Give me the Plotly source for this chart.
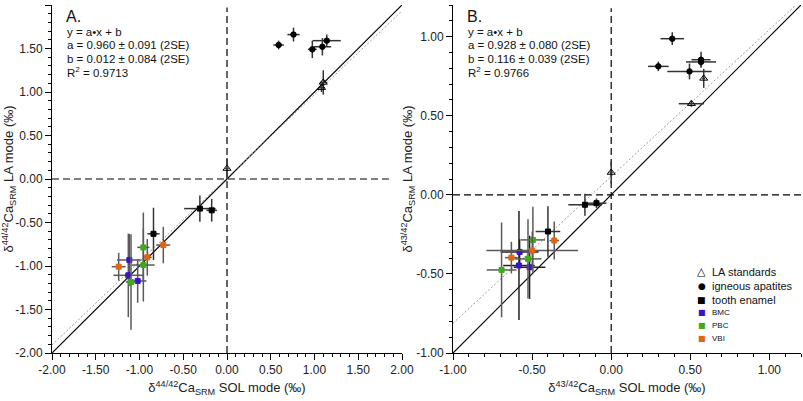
import plotly.graph_objects as go

# ---------------- data: panel A (δ44/42Ca) ----------------
A_std_x = [0.00, 1.08, 1.10]
A_std_y = [0.12, 1.05, 1.11]
A_std_xe = [0.02, 0.04, 0.04]
A_std_ye = [0.12, 0.05, 0.14]

A_ign_x = [0.59, 0.76, 0.975, 1.09, 1.14]
A_ign_y = [1.54, 1.66, 1.49, 1.52, 1.59]
A_ign_xe = [0.06, 0.07, 0.05, 0.10, 0.16]
A_ign_ye = [0.05, 0.08, 0.10, 0.10, 0.07]

A_tooth_x = [-0.31, -0.175, -0.84]
A_tooth_y = [-0.34, -0.36, -0.63]
A_tooth_xe = [0.18, 0.06, 0.07]
A_tooth_ye = [0.15, 0.13, 0.30]

A_bmc_x = [-1.116, -1.128, -1.021]
A_bmc_y = [-0.931, -1.107, -1.172]
A_bmc_xe = [0.14, 0.17, 0.10]
A_bmc_ye = [0.30, 0.48, 0.25]

A_pbc_x = [-0.956, -0.956, -1.097]
A_pbc_y = [-0.786, -0.989, -1.184]
A_pbc_xe = [0.07, 0.13, 0.06]
A_pbc_ye = [0.40, 0.42, 0.55]

A_vbi_x = [-0.728, -0.911, -1.238]
A_vbi_y = [-0.759, -0.900, -1.008]
A_vbi_xe = [0.08, 0.05, 0.08]
A_vbi_ye = [0.21, 0.21, 0.16]

A_fit = {"a": 0.960, "b": 0.012}
A_text = ["A.", "y = a•x + b", "a = 0.960 ± 0.091 (2SE)", "b = 0.012 ± 0.084 (2SE)", "R<sup>2</sup> = 0.9713"]

# ---------------- data: panel B (δ43/42Ca) ----------------
B_std_x = [0.00, 0.507, 0.585]
B_std_y = [0.141, 0.576, 0.736]
B_std_xe = [0.01, 0.08, 0.01]
B_std_ye = [0.07, 0.02, 0.06]

B_ign_x = [0.386, 0.298, 0.495, 0.568, 0.568]
B_ign_y = [0.987, 0.812, 0.780, 0.854, 0.840]
B_ign_xe = [0.074, 0.065, 0.14, 0.06, 0.095]
B_ign_ye = [0.04, 0.03, 0.05, 0.05, 0.03]

B_tooth_x = [-0.166, -0.093, -0.40]
B_tooth_y = [-0.063, -0.053, -0.232]
B_tooth_xe = [0.105, 0.063, 0.078]
B_tooth_ye = [0.07, 0.03, 0.16]

B_bmc_x = [-0.579, -0.583, -0.516]
B_bmc_y = [-0.361, -0.447, -0.458]
B_bmc_xe = [0.12, 0.10, 0.10]
B_bmc_ye = [0.08, 0.345, 0.20]

B_pbc_x = [-0.495, -0.526, -0.693]
B_pbc_y = [-0.285, -0.405, -0.475]
B_pbc_xe = [0.077, 0.085, 0.094]
B_pbc_ye = [0.21, 0.25, 0.30]

B_vbi_x = [-0.360, -0.499, -0.631]
B_vbi_y = [-0.289, -0.352, -0.397]
B_vbi_xe = [0.03, 0.29, 0.04]
B_vbi_ye = [0.12, 0.12, 0.10]

B_fit = {"a": 0.928, "b": 0.116}
B_text = ["B.", "y = a•x + b", "a = 0.928 ± 0.080 (2SE)", "b = 0.116 ± 0.039 (2SE)", "R<sup>2</sup> = 0.9766"]

# ---------------- ticks ----------------
A_tick_vals = [-2.0, -1.5, -1.0, -0.5, 0.0, 0.5, 1.0, 1.5, 2.0]
A_tick_text = ["-2.00", "-1.50", "-1.00", "-0.50", "0.00", "0.50", "1.00", "1.50", "2.00"]
B_tick_vals = [-1.0, -0.5, 0.0, 0.5, 1.0]
B_tick_text = ["-1.00", "-0.50", "0.00", "0.50", "1.00"]

# legend entries
legend_names = ["LA standards", "igneous apatites", "tooth enamel", "BMC", "PBC", "VBI"]
legend_glyphs = ["△", "●", "■", "■", "■", "■"]

C_BMC = "#3a12cc"
C_PBC = "#3cad14"
C_VBI = "#e2650f"
legend_colors = ["black", "black", "black", C_BMC, C_PBC, C_VBI]

FONT = "Liberation Sans, Arial, sans-serif"

fig = go.Figure()


def add_group(xa, ya, x, y, xe, ye, symbol, color, ecolor, size):
    fig.add_trace(go.Scatter(
        x=x, y=y, mode="markers", xaxis=xa, yaxis=ya, showlegend=False,
        marker=dict(symbol=symbol, color=color, size=size,
                    line=dict(color=color, width=1)),
        error_x=dict(type="data", array=xe, color=ecolor, thickness=1.5, width=0),
        error_y=dict(type="data", array=ye, color=ecolor, thickness=1.5, width=0),
    ))


def add_lines(xa, ya, lo, hi, fit):
    # 1:1 line
    fig.add_trace(go.Scatter(x=[lo, hi], y=[lo, hi], mode="lines", xaxis=xa, yaxis=ya,
                             showlegend=False, line=dict(color="black", width=1.2)))
    # regression line
    x_end = (hi - fit["b"]) / fit["a"] if fit["a"] * hi + fit["b"] > hi else hi
    xs = [lo, x_end]
    ys = [fit["a"] * v + fit["b"] for v in xs]
    fig.add_trace(go.Scatter(x=xs, y=ys, mode="lines", xaxis=xa, yaxis=ya,
                             showlegend=False, line=dict(color="#9a9a9a", width=1, dash="2px,2px")))


GRAY = "#5a5a5a"

# panel A
add_lines("x", "y", -2.0, 2.0, A_fit)
add_group("x", "y", A_bmc_x, A_bmc_y, A_bmc_xe, A_bmc_ye, "square", C_BMC, GRAY, 5)
add_group("x", "y", A_pbc_x, A_pbc_y, A_pbc_xe, A_pbc_ye, "square", C_PBC, GRAY, 5)
add_group("x", "y", A_vbi_x, A_vbi_y, A_vbi_xe, A_vbi_ye, "square", C_VBI, GRAY, 5)
add_group("x", "y", A_tooth_x, A_tooth_y, A_tooth_xe, A_tooth_ye, "square", "black", "#333333", 5)
add_group("x", "y", A_ign_x, A_ign_y, A_ign_xe, A_ign_ye, "circle", "black", "#333333", 5.5)
add_group("x", "y", A_std_x, A_std_y, A_std_xe, A_std_ye, "triangle-up-open", "black", "#333333", 7)

# panel B
add_lines("x2", "y2", -1.0, 1.2, B_fit)
add_group("x2", "y2", B_bmc_x, B_bmc_y, B_bmc_xe, B_bmc_ye, "square", C_BMC, "#222222", 5)
add_group("x2", "y2", B_pbc_x, B_pbc_y, B_pbc_xe, B_pbc_ye, "square", C_PBC, GRAY, 5)
add_group("x2", "y2", B_vbi_x, B_vbi_y, B_vbi_xe, B_vbi_ye, "square", C_VBI, GRAY, 5)
add_group("x2", "y2", B_tooth_x, B_tooth_y, B_tooth_xe, B_tooth_ye, "square", "black", "#333333", 5)
add_group("x2", "y2", B_ign_x, B_ign_y, B_ign_xe, B_ign_ye, "circle", "black", "#333333", 5.5)
add_group("x2", "y2", B_std_x, B_std_y, B_std_xe, B_std_ye, "triangle-up-open", "black", "#333333", 7)

# dashed zero lines
dash = dict(color="black", width=1.2, dash="7px,4px")
fig.add_shape(type="line", xref="x", yref="y", x0=0, x1=0, y0=-2.0, y1=1.97, line=dash, layer="below")
fig.add_shape(type="line", xref="x", yref="y", x0=-2.0, x1=1.85, y0=0, y1=0, line=dash, layer="below")
fig.add_shape(type="line", xref="x2", yref="y2", x0=0, x1=0, y0=-1.0, y1=1.18, line=dash, layer="below")
fig.add_shape(type="line", xref="x2", yref="y2", x0=-1.0, x1=1.2, y0=0, y1=0, line=dash, layer="below")


def axis(domain, rng, vals, text, title, anchor, standoff=6):
    return dict(domain=domain, range=rng, tickmode="array", tickvals=vals, ticktext=text,
                showline=True, linecolor="black", linewidth=1, ticks="outside", ticklen=6,
                tickcolor="black", tickwidth=1, showgrid=False, zeroline=False,
                tickfont=dict(family=FONT, size=12, color="#222"),
                minor=dict(tickmode="linear", tick0=0, dtick=0.1, ticks="outside", ticklen=3,
                           tickcolor="black", showgrid=False),
                automargin=False, anchor=anchor,
                title=dict(text=title, font=dict(family=FONT, size=13, color="#222"), standoff=standoff))


tA_x = "δ<sup>44/42</sup>Ca<sub>SRM</sub> SOL mode (‰)"
tA_y = "δ<sup>44/42</sup>Ca<sub>SRM</sub> LA mode (‰)"
tB_x = "δ<sup>43/42</sup>Ca<sub>SRM</sub> SOL mode (‰)"
tB_y = "δ<sup>43/42</sup>Ca<sub>SRM</sub> LA mode (‰)"

fig.update_layout(
    width=803, height=401,
    margin=dict(l=52, r=2, t=5, b=48),
    paper_bgcolor="white", plot_bgcolor="white",
    font=dict(family=FONT, size=12, color="#222"),
    xaxis=axis([0, 0.4673], [-2.0, 2.0], A_tick_vals, A_tick_text, tA_x, "y"),
    yaxis=axis([0, 1], [-2.0, 2.0], A_tick_vals, A_tick_text, tA_y, "x"),
    xaxis2=axis([0.5354, 1], [-1.0, 1.2], B_tick_vals, B_tick_text, tB_x, "y2"),
    yaxis2=axis([0, 1], [-1.0, 1.2], B_tick_vals, B_tick_text, tB_y, "x2", standoff=0),
    showlegend=False,
)

# panel text annotations
ann = []
for xref, yref, texts in (("x domain", "y domain", A_text), ("x2 domain", "y2 domain", B_text)):
    ann.append(dict(xref=xref, yref=yref, x=0.035, y=0.968, text=texts[0], showarrow=False,
                    xanchor="left", yanchor="middle", font=dict(family=FONT, size=16, color="#111")))
    for i, t in enumerate(texts[1:]):
        ann.append(dict(xref=xref, yref=yref, x=0.037, y=0.9224 - i * 0.0385, text=t, showarrow=False,
                        xanchor="left", yanchor="middle", font=dict(family=FONT, size=11.5, color="#111")))

# legend (glyph + label rows)
leg_y = [0.233, 0.1925, 0.152, 0.115, 0.0776, 0.043]
glyph_sizes = [11, 9, 9, 8, 8, 8]
text_sizes = [11, 11, 11, 8, 8, 8]
for i, (g, n, c) in enumerate(zip(legend_glyphs, legend_names, legend_colors)):
    ann.append(dict(xref="x2 domain", yref="y2 domain", x=0.7155, y=leg_y[i], text=g,
                    showarrow=False, xanchor="center", yanchor="middle",
                    font=dict(family="DejaVu Sans", size=glyph_sizes[i], color=c)))
    ann.append(dict(xref="x2 domain", yref="y2 domain", x=0.739, y=leg_y[i], text=n,
                    showarrow=False, xanchor="left", yanchor="middle",
                    font=dict(family=FONT, size=text_sizes[i], color="#111")))

fig.update_layout(annotations=ann)

fig.write_html("out.html",
               config={"displayModeBar": False},
               post_script="document.body.style.margin='0';document.body.style.padding='0';")
